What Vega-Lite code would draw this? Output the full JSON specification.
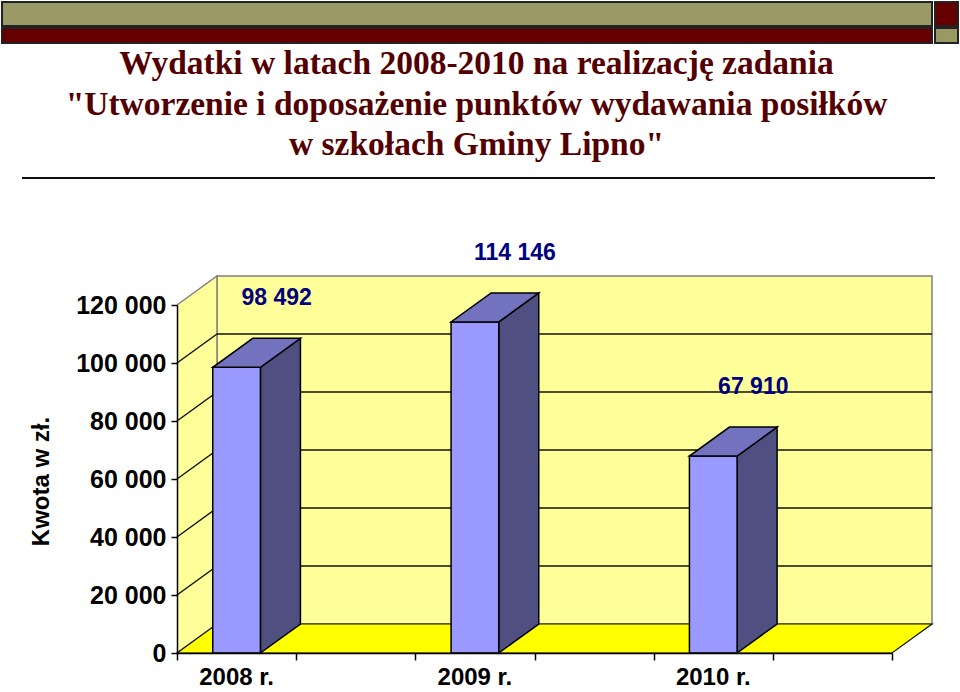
{
  "$schema": "https://vega.github.io/schema/vega-lite/v6.json",
  "width": 715,
  "height": 348,
  "autosize": {"type": "none"},
  "padding": {"left": 177, "top": 305, "right": 68, "bottom": 39},
  "background": "white",
  "config": {
    "view": {"stroke": null},
    "locale": {"number": {"decimal": ",", "thousands": " ", "grouping": [3], "currency": ["", " zł"]}}
  },
  "title": {
    "text": ["Wydatki w latach 2008-2010 na realizację zadania", "\"Utworzenie i doposażenie punktów wydawania posiłków", "w szkołach Gminy Lipno\""],
    "font": "Liberation Serif",
    "fontSize": 33.5,
    "fontWeight": "bold",
    "color": "#550000",
    "lineHeight": 40.5,
    "anchor": "middle",
    "frame": "group",
    "baseline": "alphabetic",
    "dx": -58,
    "dy": 188,
    "offset": 0
  },
  "data": {
    "values": [
      {"year": "2008 r.", "i": 0, "value": 98492},
      {"year": "2009 r.", "i": 1, "value": 114146},
      {"year": "2010 r.", "i": 2, "value": 67910}
    ]
  },
  "transform": [
    {"calculate": "datum.i + 0.15", "as": "x0"},
    {"calculate": "datum.i + 0.35", "as": "x1"},
    {"calculate": "datum.i + 0.25", "as": "xc"},
    {"calculate": "datum.i + 0.418", "as": "lx"}
  ],
  "layer": [
    {
      "data": {"values": [{}]},
      "mark": {"type": "rect", "fill": "#999966", "stroke": "#222222", "strokeWidth": 2, "clip": false},
      "encoding": {
        "x": {"datum": -0.7343, "type": "quantitative", "scale": {"domain": [0, 3], "nice": false, "zero": false},
          "axis": {"values": [0, 0.5, 1, 1.5, 2, 2.5, 3], "labels": false, "title": null, "grid": false, "tickSize": 7, "tickColor": "#000000", "tickWidth": 1.5, "domainColor": "#000000", "domainWidth": 1.5, "zindex": 1}},
        "x2": {"datum": 3.1679},
        "y": {"datum": 224483, "type": "quantitative", "scale": {"domain": [0, 120000], "nice": false, "zero": false},
          "axis": {
            "title": "Kwota w zł.", "values": [0, 20000, 40000, 60000, 80000, 100000, 120000], "format": ",d",
            "labelFont": "Liberation Sans", "labelFontSize": 25, "labelFontWeight": "bold", "labelColor": "#000000", "labelPadding": 5, "labelFlush": false, "labelOverlap": false,
            "tickSize": 6, "tickColor": "#000000", "tickWidth": 1.5, "domainColor": "#000000", "domainWidth": 1.5, "grid": false,
            "titleFont": "Liberation Sans", "titleFontSize": 24, "titleFontWeight": "bold", "titleColor": "#000000",
            "titleAngle": -90, "titleX": -136, "titleY": 176, "titleAlign": "center", "titleBaseline": "middle", "zindex": 1
          }},
        "y2": {"datum": 216207}
      }
    },
    {
      "data": {"values": [{}]},
      "mark": {"type": "rect", "fill": "#660000", "stroke": "#222222", "strokeWidth": 2, "clip": false},
      "encoding": {
        "x": {"datum": 3.1805, "type": "quantitative"},
        "x2": {"datum": 3.277},
        "y": {"datum": 224483, "type": "quantitative"},
        "y2": {"datum": 216207}
      }
    },
    {
      "data": {"values": [{}]},
      "mark": {"type": "rect", "fill": "#660000", "stroke": "#222222", "strokeWidth": 2, "clip": false},
      "encoding": {
        "x": {"datum": -0.7343, "type": "quantitative"},
        "x2": {"datum": 3.1679},
        "y": {"datum": 215517, "type": "quantitative"},
        "y2": {"datum": 210345}
      }
    },
    {
      "data": {"values": [{}]},
      "mark": {"type": "rect", "fill": "#999966", "stroke": "#222222", "strokeWidth": 2, "clip": false},
      "encoding": {
        "x": {"datum": 3.1805, "type": "quantitative"},
        "x2": {"datum": 3.277},
        "y": {"datum": 215517, "type": "quantitative"},
        "y2": {"datum": 210345}
      }
    },
    {
      "data": {"values": [{}]},
      "mark": {"type": "rule", "color": "#111111", "strokeWidth": 2, "clip": false},
      "encoding": {
        "x": {"datum": -0.6504, "type": "quantitative"},
        "x2": {"datum": 3.1804},
        "y": {"datum": 163793, "type": "quantitative"}
      }
    },
    {
      "data": {"values": [{}]},
      "mark": {"type": "rect", "fill": "#FFFF99", "stroke": "#808080", "strokeWidth": 1.5, "clip": false},
      "encoding": {
        "x": {"datum": 0.16784, "type": "quantitative"},
        "x2": {"datum": 3.16784},
        "y": {"datum": 10000, "type": "quantitative"},
        "y2": {"datum": 130000}
      }
    },
    {
      "data": {"values": [{}]},
      "mark": {"type": "point", "shape": "M0,0L0.1061,-0.07692L0.1061,-1L0,-0.92308", "size": 568516, "filled": true, "fill": "#FFFF99", "stroke": "#808080", "strokeWidth": 1.5, "opacity": 1, "clip": false},
      "encoding": {
        "x": {"datum": 0, "type": "quantitative"},
        "y": {"datum": 0, "type": "quantitative"}
      }
    },
    {
      "data": {"values": [{}]},
      "mark": {"type": "point", "shape": "M0,0L0.94702,0L1,-0.03841L0.05298,-0.03841Z", "size": 2280100, "filled": true, "fill": "#FFFF00", "stroke": "#111111", "strokeWidth": 1.2, "opacity": 1, "clip": false},
      "encoding": {
        "x": {"datum": 0, "type": "quantitative"},
        "y": {"datum": 0, "type": "quantitative"}
      }
    },
    {
      "data": {"values": [{"level": 20000}, {"level": 40000}, {"level": 60000}, {"level": 80000}, {"level": 100000}]},
      "mark": {"type": "rule", "color": "#111111", "strokeWidth": 1.5, "yOffset": -29, "clip": false},
      "encoding": {
        "x": {"datum": 0.16784, "type": "quantitative"},
        "x2": {"datum": 3.16784},
        "y": {"field": "level", "type": "quantitative"}
      }
    },
    {
      "data": {"values": [{"level": 20000}, {"level": 40000}, {"level": 60000}, {"level": 80000}, {"level": 100000}]},
      "mark": {"type": "rule", "color": "#111111", "strokeWidth": 1.5, "y2Offset": -29, "clip": false},
      "encoding": {
        "x": {"datum": 0, "type": "quantitative"},
        "x2": {"datum": 0.16784},
        "y": {"field": "level", "type": "quantitative"},
        "y2": {"field": "level"}
      }
    },
    {
      "transform": [
        {"fold": ["i", "value"], "as": ["corner", "cv"]},
        {"calculate": "datum.i + (datum.corner === 'i' ? 0.35 : 0.51784)", "as": "sx"},
        {"calculate": "datum.corner === 'i' ? 0 : 10000", "as": "sy"},
        {"calculate": "datum.value + (datum.corner === 'i' ? 0 : 10000)", "as": "sy2"}
      ],
      "mark": {"type": "area", "fill": "#4F4F82", "stroke": "#000000", "strokeWidth": 1.5, "interpolate": "linear", "opacity": 1, "clip": false},
      "encoding": {
        "x": {"field": "sx", "type": "quantitative"},
        "y": {"field": "sy", "type": "quantitative"},
        "y2": {"field": "sy2"},
        "detail": {"field": "year"}
      }
    },
    {
      "mark": {"type": "bar", "fill": "#9999FF", "stroke": "#000000", "strokeWidth": 1.5, "clip": false},
      "encoding": {
        "x": {"field": "x0", "type": "quantitative"},
        "x2": {"field": "x1"},
        "y": {"field": "value", "type": "quantitative"},
        "y2": {"datum": 0}
      }
    },
    {
      "mark": {"type": "point", "shape": "M0,0L0.5417,0L0.99659,-0.32955L0.45489,-0.32955Z", "size": 30976, "filled": true, "fill": "#7272BE", "stroke": "#000000", "strokeWidth": 1.5, "opacity": 1, "clip": false},
      "encoding": {
        "x": {"field": "x0", "type": "quantitative"},
        "y": {"field": "value", "type": "quantitative"}
      }
    },
    {
      "mark": {"type": "text", "font": "Liberation Sans", "fontSize": 23, "fontWeight": "bold", "color": "#000080", "align": "center", "baseline": "middle", "dy": -69, "clip": false},
      "encoding": {
        "x": {"field": "lx", "type": "quantitative"},
        "y": {"field": "value", "type": "quantitative"},
        "text": {"field": "value", "type": "quantitative", "format": ",d"}
      }
    },
    {
      "mark": {"type": "text", "font": "Liberation Sans", "fontSize": 24, "fontWeight": "bold", "color": "#000000", "align": "center", "baseline": "alphabetic", "dy": 32, "clip": false},
      "encoding": {
        "x": {"field": "xc", "type": "quantitative"},
        "y": {"datum": 0, "type": "quantitative"},
        "text": {"field": "year", "type": "nominal"}
      }
    }
  ]
}
